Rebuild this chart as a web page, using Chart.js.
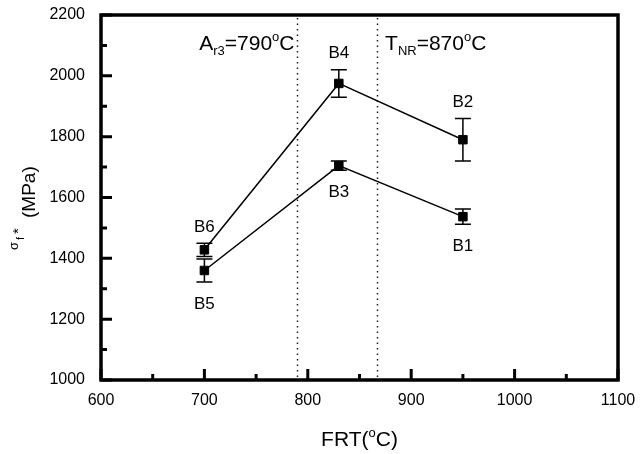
<!DOCTYPE html>
<html><head><meta charset="utf-8">
<script src="https://cdn.jsdelivr.net/npm/chart.js@4/dist/chart.umd.min.js"></script>
<style>html,body{margin:0;padding:0;background:#fff}#wrap{width:642px;height:454px;position:relative}</style>
</head><body><div id="wrap"><canvas id="c"></canvas></div>
<script>
// ---- data ----
const frt = [700, 830, 950];
const upperNames = ['B6', 'B4', 'B2'];
const upperStress = [1428, 1975, 1790];
const upperErr = [22, 45, 70];
const lowerNames = ['B5', 'B3', 'B1'];
const lowerStress = [1360, 1705, 1537];
const lowerErr = [38, 15, 25];
const refTemps = [790, 867];
const xMajorTicks = [600, 700, 800, 900, 1000, 1100];
const xMinorTicks = [650, 750, 850, 950, 1050];
const yMajorTicks = [1000, 1200, 1400, 1600, 1800, 2000, 2200];
const yMinorTicks = [1100, 1300, 1500, 1700, 1900, 2100];

const FONT = '"Liberation Sans", Arial, sans-serif';

function richText(ctx, x, y, parts, size, align) {
  const small = Math.round(size * 0.62);
  const measure = p => {
    ctx.font = ((p[1] || 'n') === 'n' ? size : small) + 'px ' + FONT;
    return ctx.measureText(p[0]).width;
  };
  let total = 0; parts.forEach(p => total += measure(p));
  let cx = align === 'right' ? x - total : align === 'center' ? x - total / 2 : x;
  ctx.textBaseline = 'alphabetic'; ctx.textAlign = 'left'; ctx.fillStyle = '#000';
  parts.forEach(p => {
    const k = p[1] || 'n'; const w = measure(p);
    if (k === 'n') ctx.fillText(p[0], cx, y);
    else if (k === 'sub') ctx.fillText(p[0], cx, y + size * 0.22);
    else if (k === 'sup') ctx.fillText(p[0], cx, y - size * 0.42);
    cx += w;
  });
}

const decor = {
  id: 'decor',
  beforeDatasetsDraw(chart) {
    const {ctx, chartArea: a, scales: {x, y}} = chart;
    ctx.save();
    ctx.strokeStyle = '#222'; ctx.lineWidth = 1.5; ctx.setLineDash([1.5, 4]);
    refTemps.forEach(t => {
      const px = Math.round(x.getPixelForValue(t)) + 0.5;
      ctx.beginPath(); ctx.moveTo(px, a.top + 3); ctx.lineTo(px, a.bottom - 2); ctx.stroke();
    });
    ctx.setLineDash([]);
    ctx.strokeStyle = '#000'; ctx.lineWidth = 1.5;
    const drawErr = (vals, errs) => {
      frt.forEach((t, i) => {
        const px = x.getPixelForValue(t);
        const top = y.getPixelForValue(vals[i] + errs[i]);
        const bot = y.getPixelForValue(vals[i] - errs[i]);
        ctx.beginPath();
        ctx.moveTo(px, top); ctx.lineTo(px, bot);
        ctx.moveTo(px - 8, top); ctx.lineTo(px + 8, top);
        ctx.moveTo(px - 8, bot); ctx.lineTo(px + 8, bot);
        ctx.stroke();
      });
    };
    drawErr(upperStress, upperErr);
    drawErr(lowerStress, lowerErr);
    ctx.restore();
  },
  afterDraw(chart) {
    const {ctx, chartArea: a, scales: {x, y}} = chart;
    ctx.save();
    ctx.strokeStyle = '#000'; ctx.lineWidth = 3.5;
    ctx.strokeRect(a.left, a.top, a.right - a.left, a.bottom - a.top);
    ctx.lineWidth = 3;
    ctx.beginPath();
    xMajorTicks.forEach(t => { const px = x.getPixelForValue(t); ctx.moveTo(px, a.bottom); ctx.lineTo(px, a.bottom - 11); });
    xMinorTicks.forEach(t => { const px = x.getPixelForValue(t); ctx.moveTo(px, a.bottom); ctx.lineTo(px, a.bottom - 6); });
    yMajorTicks.forEach(v => { const py = y.getPixelForValue(v); ctx.moveTo(a.left, py); ctx.lineTo(a.left + 11, py); });
    yMinorTicks.forEach(v => { const py = y.getPixelForValue(v); ctx.moveTo(a.left, py); ctx.lineTo(a.left + 6, py); });
    ctx.stroke();
    // point labels
    ctx.fillStyle = '#000'; ctx.font = '17px ' + FONT; ctx.textAlign = 'center'; ctx.textBaseline = 'middle';
    frt.forEach((t, i) => {
      const px = x.getPixelForValue(t);
      ctx.fillText(upperNames[i], px, y.getPixelForValue(upperStress[i] + upperErr[i]) - 16);
      ctx.fillText(lowerNames[i], px, y.getPixelForValue(lowerStress[i] - lowerErr[i]) + 22);
    });
    // reference annotations
    const l1 = x.getPixelForValue(refTemps[0]);
    const l2 = x.getPixelForValue(refTemps[1]);
    richText(ctx, l1 - 3, 50, [['A'], ['r3', 'sub'], ['=790'], ['o', 'sup'], ['C']], 21, 'right');
    richText(ctx, l2 + 8, 50, [['T'], ['NR', 'sub'], ['=870'], ['o', 'sup'], ['C']], 21, 'left');
    // x title
    richText(ctx, (a.left + a.right) / 2, 446, [['FRT('], ['o', 'sup'], ['C)']], 21, 'center');
    // y title (rotated)
    ctx.save();
    ctx.translate(35, 250); ctx.rotate(-Math.PI / 2);
    ctx.fillStyle = '#000'; ctx.textAlign = 'left'; ctx.textBaseline = 'alphabetic';
    ctx.font = '13px ' + FONT; ctx.fillText('\u03C3', 0, -17);
    ctx.font = '11px ' + FONT; ctx.fillText('f', 10, -11);
    ctx.font = '15px ' + FONT; ctx.fillText('*', 16, -12);
    ctx.font = '19px ' + FONT; ctx.fillText('(MPa)', 32, 0);
    ctx.restore();
    ctx.restore();
  }
};

const mk = (vals) => frt.map((t, i) => ({x: t, y: vals[i]}));
new Chart(document.getElementById('c'), {
  type: 'scatter',
  data: {
    datasets: [
      {data: mk(upperStress), showLine: true, borderColor: '#000', borderWidth: 1.5, pointStyle: 'rect', pointRadius: 6, pointBackgroundColor: '#000', pointBorderColor: '#000', pointBorderWidth: 1},
      {data: mk(lowerStress), showLine: true, borderColor: '#000', borderWidth: 1.5, pointStyle: 'rect', pointRadius: 6, pointBackgroundColor: '#000', pointBorderColor: '#000', pointBorderWidth: 1}
    ]
  },
  options: {
    responsive: true, maintainAspectRatio: false, animation: false,
    layout: {padding: {left: 0, top: 15, right: 24, bottom: 0}},
    plugins: {legend: {display: false}, tooltip: {enabled: false}},
    scales: {
      x: {
        type: 'linear', min: 600, max: 1100,
        afterBuildTicks: s => { s.ticks = xMajorTicks.map(v => ({value: v})); },
        afterFit: s => { s.height = 74; s.paddingLeft = 0; s.paddingRight = 0; },
        grid: {display: false, drawTicks: false}, border: {display: false},
        ticks: {color: '#000', font: {family: FONT, size: 16}, padding: 11, maxRotation: 0, callback: v => String(v)}
      },
      y: {
        type: 'linear', min: 1000, max: 2200,
        afterBuildTicks: s => { s.ticks = yMajorTicks.map(v => ({value: v})); },
        afterFit: s => { s.width = 101; s.paddingTop = 0; s.paddingBottom = 0; },
        grid: {display: false, drawTicks: false}, border: {display: false},
        ticks: {color: '#000', font: {family: FONT, size: 16}, padding: 16, callback: v => String(v)}
      }
    }
  },
  plugins: [decor]
});
</script></body></html>
